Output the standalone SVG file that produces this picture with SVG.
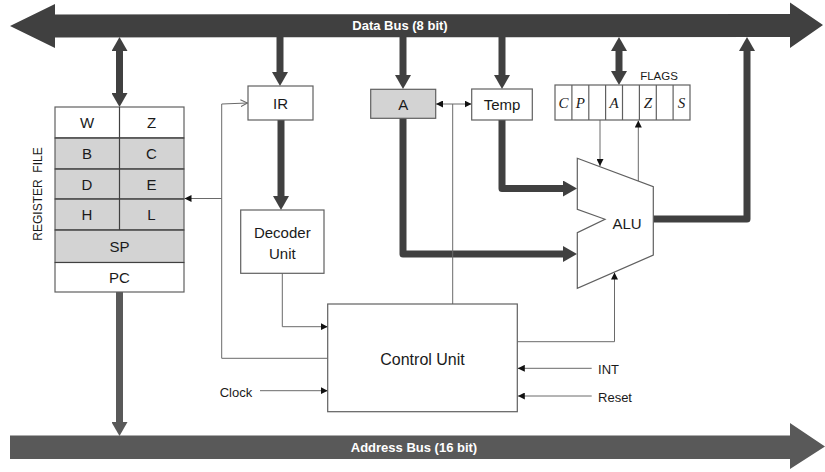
<svg xmlns="http://www.w3.org/2000/svg" width="825" height="472" viewBox="0 0 825 472">
<style>
text{font-family:"Liberation Sans",Arial,sans-serif;fill:#1a1a1a;text-anchor:middle;dominant-baseline:central}
.box{fill:#fff;stroke:#606060;stroke-width:1.2}
.grey{fill:#d3d3d3;stroke:#606060;stroke-width:1.2}
.div{stroke:#404040;stroke-width:1.2;fill:none}
.thick{fill:none;stroke:#404040;stroke-width:7;stroke-linejoin:round}
.thin{fill:none;stroke:#6a6a6a;stroke-width:1}
.bus{font-weight:bold;font-size:13px;fill:#fff}
.flag{font-family:"Liberation Serif","DejaVu Serif",serif;font-style:italic;font-size:15px}
</style>
<defs>
<marker id="ah" markerUnits="userSpaceOnUse" markerWidth="14" markerHeight="16" refX="0" refY="8" orient="auto-start-reverse" viewBox="0 0 14 16">
<path d="M0,0 L14,8 L0,16 z" fill="#404040"/>
</marker>
<marker id="ahg" markerUnits="userSpaceOnUse" markerWidth="14" markerHeight="16" refX="0" refY="8" orient="auto" viewBox="0 0 14 16">
<path d="M0,0 L14,8 L0,16 z" fill="#595959"/>
</marker>
<marker id="sa" markerUnits="userSpaceOnUse" markerWidth="7" markerHeight="7" refX="7" refY="3.5" orient="auto-start-reverse" viewBox="0 0 7 7">
<path d="M0,0 L7,3.5 L0,7 z" fill="#111"/>
</marker>
<marker id="oa" markerUnits="userSpaceOnUse" markerWidth="8" markerHeight="8" refX="7" refY="4" orient="auto" viewBox="0 0 8 8">
<path d="M0,0.5 L7,4 L0,7.5" fill="none" stroke="#6a6a6a" stroke-width="1"/>
</marker>
</defs>

<g id="data-bus">
<polygon points="10,26 55,4 55,14.5 790,14 790,2.5 823,25 790,48 790,37 55,37.5 55,48" fill="#404040"/>
<text class="bus" x="400" y="25.5">Data Bus (8 bit)</text>
</g>

<g id="address-bus">
<polygon points="10,435.5 790,435.5 790,423 825,446.5 790,469 790,459 10,459" fill="#595959"/>
<text class="bus" x="414" y="447">Address Bus (16 bit)</text>
</g>

<g id="connectors">
<path class="thick" d="M119.5,51 L119.5,93" marker-start="url(#ah)" marker-end="url(#ah)"/>
<path class="thick" d="M280,37 L280,72" marker-end="url(#ah)"/>
<path class="thick" d="M403,37 L403,75" marker-end="url(#ah)"/>
<path class="thick" d="M502,37 L502,75" marker-end="url(#ah)"/>
<path class="thick" d="M619,51 L619,71" marker-start="url(#ah)" marker-end="url(#ah)"/>
<path class="thick" d="M281,120 L281,196" marker-end="url(#ah)"/>
<path class="thick" d="M403,118 L403,254 L563,254" marker-end="url(#ah)"/>
<path class="thick" d="M502,120 L502,188.5 L563,188.5" marker-end="url(#ah)"/>
<path class="thick" d="M653,219 L747,219 L747,51" marker-end="url(#ah)"/>
<path class="thick" d="M119.5,292 L119.5,422" style="stroke:#595959" marker-end="url(#ahg)"/>
<path class="thin" d="M436,104 L471.5,104" marker-start="url(#sa)" marker-end="url(#sa)"/>
<path class="thin" d="M452.7,104 L452.7,304"/>
<path class="thin" d="M600,120 L600,166" marker-end="url(#sa)"/>
<path class="thin" d="M638.3,181 L638.3,120.5" marker-end="url(#sa)"/>
<path class="thin" d="M282.3,273 L282.3,326.7 L327.7,326.7" marker-end="url(#sa)"/>
<path class="thin" d="M327.7,358.3 L221.7,358.3 L221.7,104 L247.5,103" marker-end="url(#oa)"/>
<path class="thin" d="M221.7,198.5 L184.5,198.5" marker-end="url(#sa)"/>
<path class="thin" d="M517.3,341.7 L614.5,341.7 L614.5,272.5" marker-end="url(#sa)"/>
<path class="thin" d="M260,390.7 L327.7,390.7" marker-end="url(#sa)"/>
<path class="thin" d="M591.7,368.3 L517.8,368.3" marker-end="url(#sa)"/>
<path class="thin" d="M591.7,396 L517.8,396" marker-end="url(#sa)"/>
</g>

<g id="register-file">
<rect class="box" x="55" y="107" width="129" height="31"/>
<rect class="grey" x="55" y="138" width="129" height="31"/>
<rect class="grey" x="55" y="169" width="129" height="30"/>
<rect class="grey" x="55" y="199" width="129" height="31"/>
<rect class="grey" x="55" y="230" width="129" height="32.5"/>
<rect class="box" x="55" y="262.5" width="129" height="29.5"/>
<path class="div" d="M119.5,107 L119.5,230 M55,138 L184,138 M55,169 L184,169 M55,199 L184,199 M55,230 L184,230 M55,262.5 L184,262.5"/>
<text x="87" y="122.5" font-size="15">W</text>
<text x="151.5" y="122.5" font-size="15">Z</text>
<text x="87" y="153.5" font-size="15">B</text>
<text x="151.5" y="153.5" font-size="15">C</text>
<text x="87" y="184" font-size="15">D</text>
<text x="151.5" y="184" font-size="15">E</text>
<text x="87" y="214.5" font-size="15">H</text>
<text x="151.5" y="214.5" font-size="15">L</text>
<text x="119.5" y="246" font-size="15">SP</text>
<text x="119.5" y="277" font-size="15">PC</text>
<text x="38" y="194" font-size="12" xml:space="preserve" transform="rotate(-90 38 194)">REGISTER  FILE</text>
</g>

<g id="ir">
<rect class="box" x="248" y="86" width="65" height="34"/>
<text x="280.5" y="103.5" font-size="15">IR</text>
</g>

<g id="decoder">
<rect class="box" x="240.7" y="210" width="83.3" height="63.3"/>
<text x="282.3" y="232" font-size="15">Decoder</text>
<text x="282.3" y="253" font-size="15">Unit</text>
</g>

<g id="a-reg">
<rect class="grey" x="370.7" y="89.3" width="65" height="29"/>
<text x="403.2" y="104" font-size="15">A</text>
</g>

<g id="temp">
<rect class="box" x="471.7" y="89" width="60.6" height="31"/>
<text x="502" y="104.5" font-size="15">Temp</text>
</g>

<g id="flags">
<rect class="box" x="555" y="85" width="135" height="35"/>
<path class="div" style="stroke:#606060" d="M571.9,85 V120 M588.8,85 V120 M605.6,85 V120 M622.5,85 V120 M639.4,85 V120 M656.3,85 V120 M673.1,85 V120"/>
<text class="flag" x="563.4" y="102.5">C</text>
<text class="flag" x="580.3" y="102.5">P</text>
<text class="flag" x="614" y="102.5">A</text>
<text class="flag" x="647.8" y="102.5">Z</text>
<text class="flag" x="681.6" y="102.5">S</text>
<text x="659" y="76" font-size="11.5">FLAGS</text>
</g>

<g id="alu">
<polygon class="box" points="577.3,158.3 653.3,186.7 653.3,255 577.3,288.3 577.3,232.7 605,219.3 577.3,209.3"/>
<text x="627" y="223" font-size="15">ALU</text>
</g>

<g id="control-unit">
<rect class="box" x="327.7" y="304" width="189.6" height="107.7"/>
<text x="422.5" y="359" font-size="16">Control Unit</text>
</g>

<g id="signals">
<text x="236" y="392.5" font-size="13">Clock</text>
<text x="608.5" y="369.5" font-size="13">INT</text>
<text x="615" y="397.5" font-size="13">Reset</text>
</g>
</svg>
